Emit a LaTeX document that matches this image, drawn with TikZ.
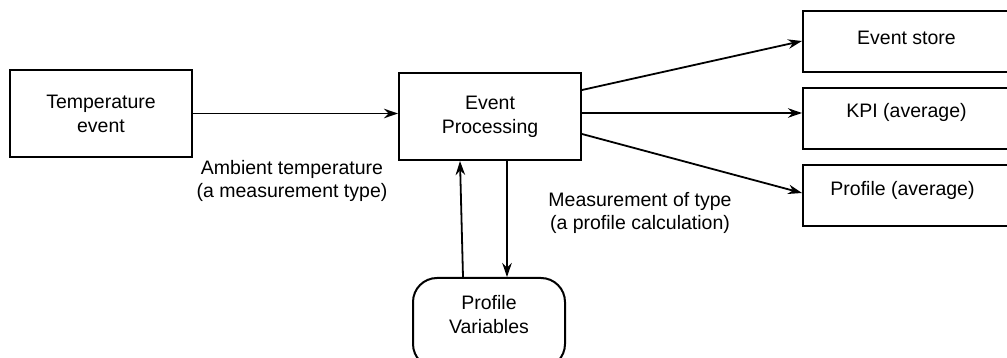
\documentclass[tikz,border=0pt]{standalone}
\usepackage{fontspec}
\setmainfont{Liberation Sans}
\usetikzlibrary{arrows.meta}
\begin{document}
\begin{tikzpicture}[x=1pt,y=-1pt,
  fnt/.style={font=\fontsize{19.5}{24}\selectfont},
  box/.style={draw,line width=2pt,rectangle,inner sep=0pt,align=center,fnt},
  rbox/.style={box,rounded corners=24pt},
  lbl/.style={align=center,inner sep=0pt,font=\fontsize{19.5}{23}\selectfont},
  arr/.style={-{Stealth[length=14pt,width=9.5pt]},line width=1.8pt}]
\useasboundingbox (0,0) rectangle (1007,358);
\node[box,minimum width=182pt,minimum height=87pt] (te) at (101,113.5) {Temperature\\event};
\node[box,minimum width=182pt,minimum height=87pt] (ep) at (490,116.5) {Event\\Processing};
\node[box,minimum width=207pt,minimum height=61pt,label={[fnt,yshift=4pt]center:Event store}] (es) at (906.5,41.5) {};
\node[box,minimum width=207pt,minimum height=61pt,label={[fnt,yshift=6pt]center:KPI (average)}] (kpi) at (906.5,118.5) {};
\node[box,minimum width=207pt,minimum height=61pt,label={[fnt,yshift=5pt,xshift=-4pt]center:Profile (average)}] (pr) at (906.5,195.5) {};
\node[rbox,minimum width=152pt,minimum height=90pt,label={[fnt,align=center,yshift=8pt]center:Profile\\Variables}] (pv) at (489,323) {};
\node[lbl] (l1) at (292,181) {Ambient temperature\\(a measurement type)};
\node[lbl] (l2) at (640,213) {Measurement of type\\(a profile calculation)};
\draw[arr] (te.east) -- (te.east -| ep.west);
\draw[arr] ([yshift=26.5pt]ep.east) -- ([yshift=0.5pt]es.west);
\draw[arr] ([yshift=3.5pt]ep.east) -- ([yshift=5.5pt]kpi.west);
\draw[arr] ([yshift=-17.5pt]ep.east) -- ([yshift=2.5pt]pr.west);
\draw[arr] ([xshift=-26pt]pv.north) -- ([xshift=-30pt]ep.south);
\draw[arr] ([xshift=17pt]ep.south) -- ([xshift=18pt]pv.north);
\end{tikzpicture}
\end{document}
